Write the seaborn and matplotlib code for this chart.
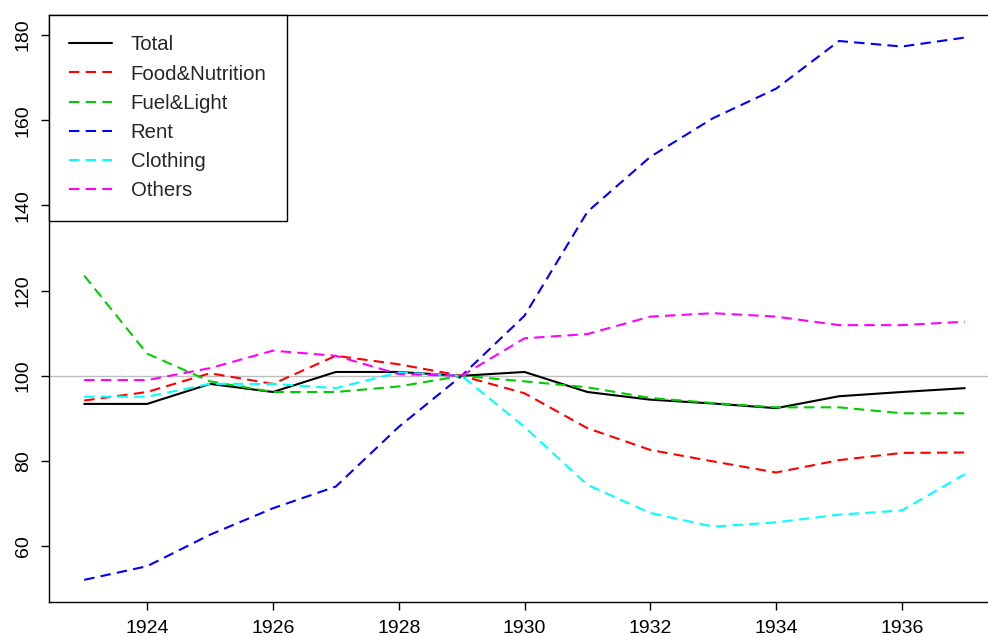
import pandas as pd
import matplotlib
matplotlib.use("Agg")
import matplotlib.pyplot as plt
import seaborn as sns

sns.set_style("ticks")
plt.rcParams['font.family'] = ['Liberation Sans', 'DejaVu Sans']

years = [1923, 1924, 1925, 1926, 1927, 1928, 1929, 1930, 1931, 1932, 1933, 1934, 1935, 1936, 1937]
total = [93.4, 93.4, 98.1, 96.2, 100.9, 100.9, 100.0, 100.9, 96.2, 94.4, 93.5, 92.4, 95.2, 96.2, 97.1]
food = [94.2, 96.2, 100.6, 98.1, 104.7, 102.7, 100.0, 95.9, 87.7, 82.6, 79.9, 77.3, 80.2, 81.9, 82.0]
fuel = [123.5, 105.2, 98.7, 96.2, 96.2, 97.5, 100.0, 98.7, 97.3, 94.8, 93.6, 92.6, 92.6, 91.2, 91.2]
rent = [52.1, 55.3, 62.7, 68.9, 74.0, 88.0, 100.0, 114.1, 138.5, 151.4, 160.5, 167.4, 178.6, 177.3, 179.4]
clothing = [95.1, 95.1, 98.1, 98.1, 97.1, 100.8, 100.0, 88.0, 74.4, 67.8, 64.6, 65.6, 67.4, 68.4, 76.9]
others = [99.0, 99.0, 101.8, 105.9, 104.7, 100.4, 100.0, 108.8, 109.8, 113.9, 114.7, 113.9, 111.9, 111.9, 112.7]

names = ['Total', 'Food&Nutrition', 'Fuel&Light', 'Rent', 'Clothing', 'Others']
colors = ['black', '#FF0000', '#00CD00', '#0000FF', '#00FFFF', '#FF00FF']

df = pd.DataFrame({'year': years, 'Total': total, 'Food&Nutrition': food,
                   'Fuel&Light': fuel, 'Rent': rent, 'Clothing': clothing, 'Others': others})
long = df.melt(id_vars='year', var_name='series', value_name='index')

fig = plt.figure(figsize=(9.88, 6.36), dpi=100)
ax = fig.add_axes([49 / 988, 1 - 602 / 636, 951 / 988, 587 / 636])

ax.axhline(100, color='#bebebe', lw=1.0, zorder=1)

sns.lineplot(data=long, x='year', y='index', hue='series', style='series',
             hue_order=names, style_order=names, palette=colors,
             dashes={'Total': '', 'Food&Nutrition': (5, 3), 'Fuel&Light': (5, 3),
                     'Rent': (5, 3), 'Clothing': (5, 3), 'Others': (5, 3)},
             linewidth=1.5, ax=ax, zorder=3)

ax.set_xlim(1922.44, 1937.56)
ax.set_ylim(46.9, 184.7)
ax.set_xticks([1924, 1926, 1928, 1930, 1932, 1934, 1936])
ax.set_yticks([60, 80, 100, 120, 140, 160, 180])
ax.set_xlabel('')
ax.set_ylabel('')
ax.tick_params(labelsize=14, length=5.8, width=1, colors='black')
ax.tick_params(axis='x', pad=7)
ax.tick_params(axis='y', pad=6.5)
for lab in ax.get_yticklabels():
    lab.set_rotation(90)
    lab.set_va('center')
ax.spines['right'].set_visible(False)
for s in ax.spines.values():
    s.set_color('black')
    s.set_linewidth(1)

leg = ax.legend(loc='upper left', borderaxespad=0, fontsize=14.7, frameon=True,
                fancybox=False, framealpha=1, edgecolor='black',
                handlelength=2.1, handletextpad=0.9, labelspacing=0.5,
                borderpad=1.0)
leg.get_frame().set_linewidth(1)
leg.set_zorder(5)

fig.savefig('out.png', dpi=100)
